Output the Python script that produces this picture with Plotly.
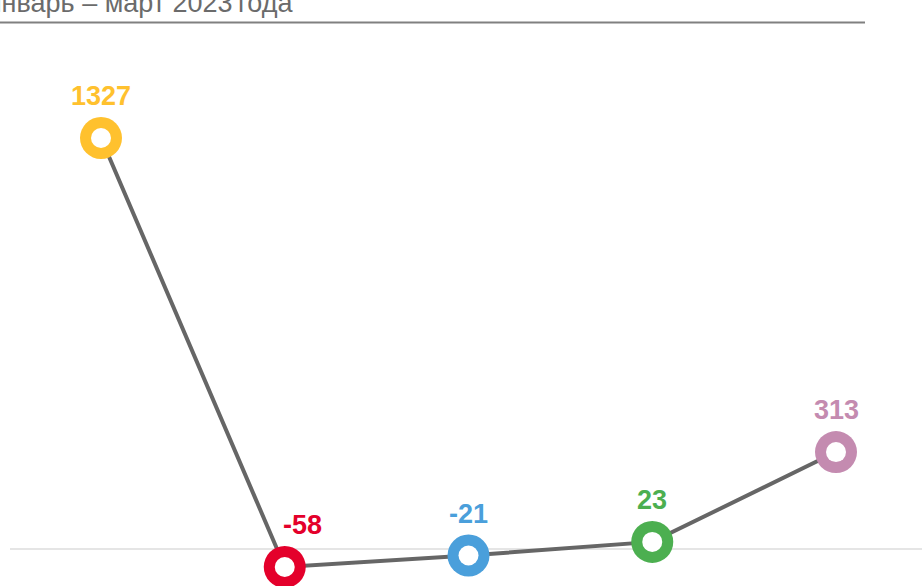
import plotly.graph_objects as go

categories = ["1", "2", "3", "4", "5"]
values = [1327, -58, -21, 23, 313]
colors = ["#FFC12E", "#E4002B", "#4A9FDB", "#4CAF50", "#C48BB0"]
label_xshift = [0, 18, 0, 0, 0]
title_text = "январь – март 2023\u2009года"

xs = list(range(len(categories)))

fig = go.Figure()
fig.add_trace(go.Scatter(
    x=xs, y=values, mode="lines",
    line=dict(color="#666666", width=4),
    hoverinfo="skip", showlegend=False, cliponaxis=False,
))
fig.add_trace(go.Scatter(
    x=xs, y=values, mode="markers",
    marker=dict(size=42, color=colors, line=dict(width=0)),
    hoverinfo="skip", showlegend=False, cliponaxis=False,
))
fig.add_trace(go.Scatter(
    x=xs, y=values, mode="markers",
    marker=dict(size=20, color="white", line=dict(width=0)),
    hoverinfo="skip", showlegend=False, cliponaxis=False,
))

for x, v, c, dx in zip(xs, values, colors, label_xshift):
    fig.add_annotation(x=x, y=v, text=f"<b>{v}</b>", showarrow=False,
                       yshift=42, xshift=dx,
                       font=dict(size=27, color=c, family="Liberation Sans, Arial"))

fig.add_annotation(xref="paper", yref="paper", x=-15/922, y=1 + 14/586,
                   xanchor="left", yanchor="top", text=title_text, showarrow=False,
                   font=dict(size=27, color="#6b6b6b", family="Liberation Sans, Arial"))

fig.add_shape(type="line", xref="paper", yref="paper", x0=0, x1=865/922,
              y0=1 - 22.5/586, y1=1 - 22.5/586, line=dict(color="#808080", width=2))
fig.add_shape(type="line", xref="paper", yref="y", x0=10/922, x1=1, y0=0, y1=0,
              line=dict(color="#dddddd", width=1.5), layer="below")

scale = 183.75
pxu = 411 / 1327
fig.update_layout(
    width=922, height=586, margin=dict(l=0, r=0, t=0, b=0),
    plot_bgcolor="white", paper_bgcolor="white",
    xaxis=dict(range=[-101/scale, (922-101)/scale], visible=False, fixedrange=True),
    yaxis=dict(range=[-(586-549)/pxu, 549/pxu], visible=False, fixedrange=True),
    font=dict(family="Liberation Sans, Arial"),
    hovermode=False,
)

fig.write_html("out.html", config={"displayModeBar": False, "staticPlot": True},
               post_script="document.body.style.margin='0';")
